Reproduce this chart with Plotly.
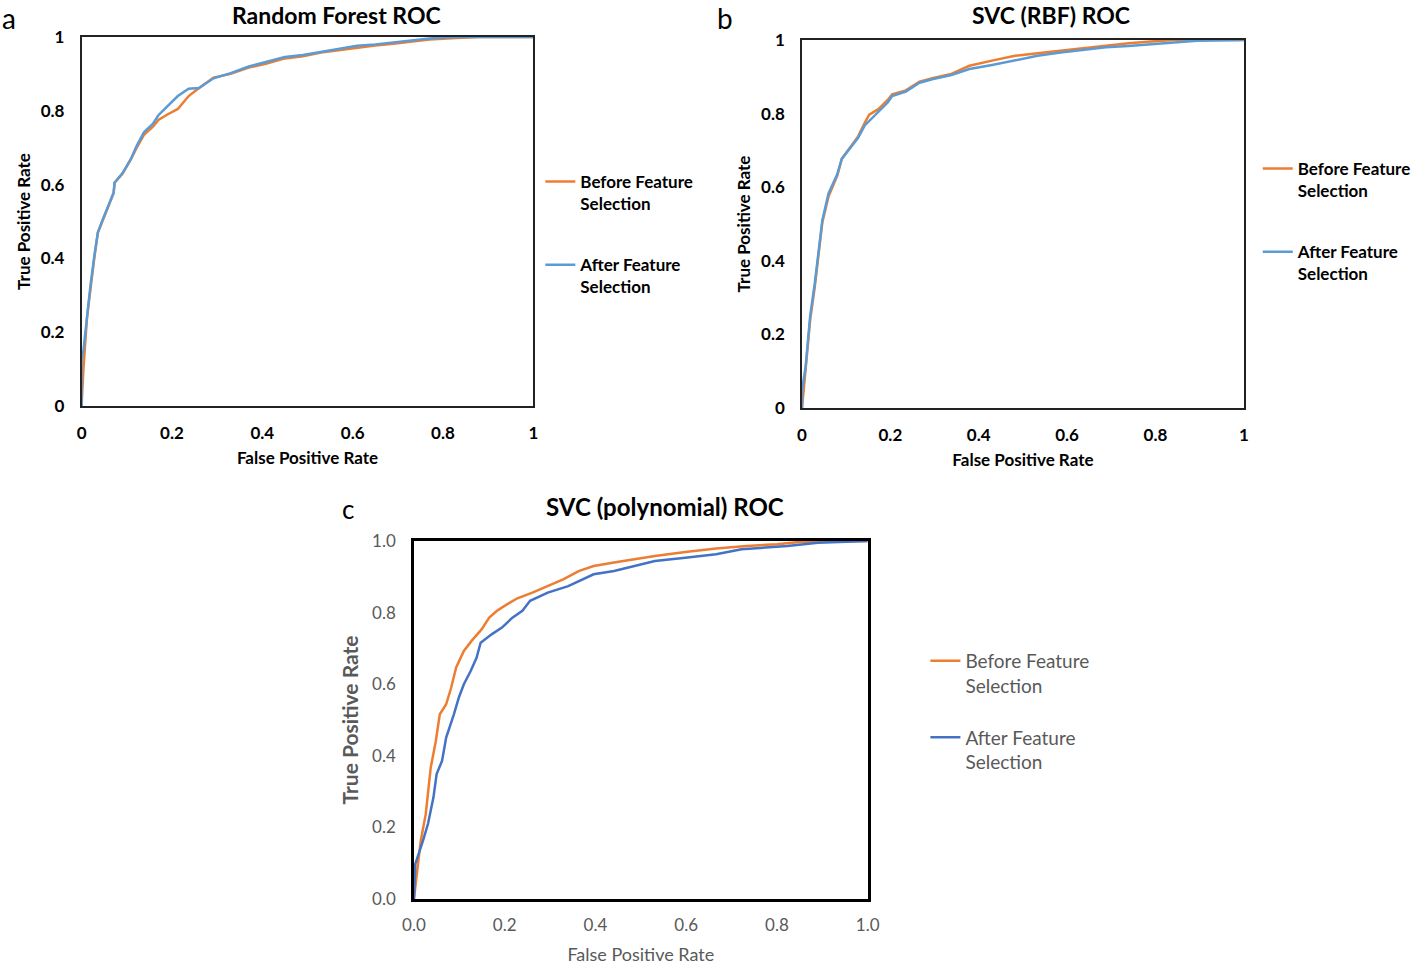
import plotly.graph_objects as go

# ---------------- data ----------------
# Panel a: Random Forest
rf_before_fpr = [0, 0.004, 0.012, 0.02, 0.028, 0.036, 0.047, 0.059, 0.071, 0.073, 0.091, 0.11, 0.122, 0.138, 0.158, 0.17, 0.19, 0.213, 0.237, 0.26, 0.292, 0.33, 0.37, 0.41, 0.45, 0.49, 0.53, 0.57, 0.61, 0.65, 0.69, 0.73, 0.77, 0.83, 0.88, 1.0]
rf_before_tpr = [0, 0.10, 0.24, 0.325, 0.40, 0.47, 0.506, 0.54, 0.578, 0.605, 0.63, 0.67, 0.70, 0.735, 0.757, 0.775, 0.79, 0.805, 0.84, 0.862, 0.89, 0.90, 0.917, 0.928, 0.942, 0.948, 0.958, 0.965, 0.972, 0.977, 0.982, 0.988, 0.993, 0.997, 1.0, 1.0]
rf_after_fpr = [0, 0.0, 0.004, 0.012, 0.02, 0.028, 0.036, 0.047, 0.059, 0.071, 0.073, 0.091, 0.11, 0.122, 0.138, 0.158, 0.17, 0.19, 0.213, 0.237, 0.26, 0.292, 0.33, 0.37, 0.41, 0.45, 0.49, 0.53, 0.57, 0.61, 0.65, 0.69, 0.73, 0.77, 0.83, 1.0]
rf_after_tpr = [0, 0.13, 0.15, 0.25, 0.33, 0.405, 0.47, 0.506, 0.54, 0.578, 0.605, 0.632, 0.672, 0.705, 0.742, 0.765, 0.788, 0.812, 0.84, 0.86, 0.862, 0.888, 0.902, 0.92, 0.934, 0.946, 0.951, 0.96, 0.968, 0.976, 0.98, 0.985, 0.992, 0.996, 1.0, 1.0]

# Panel b: SVC (RBF)
rbf_before_fpr = [0, 0.008, 0.0185, 0.029, 0.037, 0.044, 0.046, 0.06, 0.08, 0.09, 0.111, 0.127, 0.142, 0.152, 0.173, 0.194, 0.204, 0.235, 0.266, 0.297, 0.338, 0.379, 0.43, 0.482, 0.533, 0.585, 0.636, 0.688, 0.739, 0.79, 0.842, 1.0]
rbf_before_tpr = [0, 0.10, 0.24, 0.33, 0.41, 0.48, 0.505, 0.575, 0.632, 0.677, 0.712, 0.738, 0.775, 0.797, 0.812, 0.837, 0.852, 0.863, 0.887, 0.897, 0.908, 0.93, 0.944, 0.957, 0.964, 0.971, 0.977, 0.986, 0.991, 0.996, 1.0, 1.0]
rbf_after_fpr = [0, 0.0, 0.008, 0.0185, 0.029, 0.037, 0.044, 0.046, 0.06, 0.08, 0.09, 0.111, 0.127, 0.142, 0.152, 0.173, 0.194, 0.204, 0.235, 0.266, 0.297, 0.338, 0.379, 0.43, 0.482, 0.533, 0.585, 0.636, 0.688, 0.739, 0.79, 0.842, 0.894, 1.0]
rbf_after_tpr = [0, 0.05, 0.11, 0.25, 0.34, 0.42, 0.49, 0.51, 0.583, 0.636, 0.677, 0.708, 0.734, 0.768, 0.78, 0.806, 0.83, 0.848, 0.86, 0.884, 0.894, 0.905, 0.921, 0.932, 0.944, 0.957, 0.966, 0.973, 0.98, 0.984, 0.989, 0.994, 0.998, 1.0]

# Panel c: SVC (polynomial)
poly_before_fpr = [0, 0.006, 0.015, 0.026, 0.037, 0.048, 0.057, 0.071, 0.082, 0.093, 0.11, 0.127, 0.149, 0.166, 0.183, 0.205, 0.228, 0.261, 0.295, 0.329, 0.363, 0.396, 0.441, 0.486, 0.531, 0.598, 0.666, 0.733, 0.8, 0.856, 1.0]
poly_before_tpr = [0, 0.07, 0.163, 0.237, 0.367, 0.44, 0.516, 0.544, 0.59, 0.647, 0.693, 0.721, 0.753, 0.786, 0.805, 0.823, 0.84, 0.856, 0.874, 0.893, 0.916, 0.93, 0.94, 0.949, 0.958, 0.969, 0.979, 0.986, 0.991, 0.998, 1.0]
poly_after_fpr = [0, 0.003, 0.02, 0.031, 0.043, 0.05, 0.062, 0.071, 0.088, 0.099, 0.11, 0.125, 0.138, 0.147, 0.172, 0.194, 0.217, 0.239, 0.256, 0.295, 0.34, 0.374, 0.396, 0.441, 0.486, 0.531, 0.598, 0.666, 0.722, 0.823, 0.89, 1.0]
poly_after_tpr = [0, 0.098, 0.163, 0.21, 0.284, 0.349, 0.386, 0.451, 0.516, 0.563, 0.6, 0.637, 0.674, 0.716, 0.74, 0.758, 0.786, 0.805, 0.833, 0.856, 0.874, 0.893, 0.907, 0.916, 0.93, 0.944, 0.953, 0.963, 0.977, 0.986, 0.995, 1.0]

series_names = ["Before Feature<br>Selection", "After Feature<br>Selection"]
panel_titles = ["Random Forest ROC", "SVC (RBF) ROC", "SVC (polynomial) ROC"]
panel_letters = ["a", "b", "c"]
ticks_ab = [0, 0.2, 0.4, 0.6, 0.8, 1]
ticks_c = [0, 0.2, 0.4, 0.6, 0.8, 1.0]

# ---------------- styling ----------------
W, H = 1416, 965
ORANGE = "#ED7D31"
LBLUE = "#5B9BD5"
DBLUE = "#4472C4"
FONT = "Lato"
GRAY = "#595959"

def px_x(p):
    return p / W

def px_y(p):
    return 1 - p / H

fig = go.Figure()

def add(fpr, tpr, name, color, xa, ya, legend, group):
    fig.add_trace(go.Scatter(x=fpr, y=tpr, mode="lines", name=name,
                             line=dict(color=color, width=2.5),
                             xaxis=xa, yaxis=ya, legend=legend,
                             legendgroup=group))

add(rf_before_fpr, rf_before_tpr, series_names[0], ORANGE, "x", "y", "legend", "a1")
add(rf_after_fpr, rf_after_tpr, series_names[1], LBLUE, "x", "y", "legend", "a2")
add(rbf_before_fpr, rbf_before_tpr, series_names[0], ORANGE, "x2", "y2", "legend2", "b1")
add(rbf_after_fpr, rbf_after_tpr, series_names[1], LBLUE, "x2", "y2", "legend2", "b2")
add(poly_before_fpr, poly_before_tpr, series_names[0], ORANGE, "x3", "y3", "legend3", "c1")
add(poly_after_fpr, poly_after_tpr, series_names[1], DBLUE, "x3", "y3", "legend3", "c2")

bold_tick = dict(family=FONT, size=17, color="black", weight="bold")
bold_title = dict(family=FONT, size=17, color="black", weight="bold")

def ab_axes(dom_x, dom_y, anchor_x, anchor_y):
    xa = dict(domain=dom_x, range=[0, 1], tickvals=ticks_ab, showgrid=False, zeroline=False,
              showline=True, linecolor="#222", linewidth=1.5, mirror=True, automargin=False,
              tickfont=bold_tick, ticks="", ticklabelstandoff=11, anchor=anchor_y,
              title=dict(text="False Positive Rate", font=bold_title, standoff=10))
    ya = dict(domain=dom_y, range=[0, 1], tickvals=ticks_ab, showgrid=False, zeroline=False,
              showline=True, linecolor="#222", linewidth=1.5, mirror=True, automargin=False,
              tickfont=bold_tick, ticks="", ticklabelstandoff=12, anchor=anchor_x,
              title=dict(text="True Positive Rate", font=bold_title, standoff=6))
    return xa, ya

xa1, ya1 = ab_axes([px_x(82), px_x(536)], [px_y(406), px_y(37)], "x", "y")
xa2, ya2 = ab_axes([px_x(806), px_x(1250)], [px_y(408), px_y(40)], "x2", "y2")

c_tick = dict(family=FONT, size=17, color=GRAY)
xa3 = dict(domain=[px_x(416), px_x(872)], range=[0, 1], tickvals=ticks_c, tickformat=".1f",
           showgrid=False, zeroline=False, showline=True, linecolor="black", linewidth=2.5,
           mirror=True, tickfont=c_tick, ticks="", ticklabelstandoff=9, anchor="y3", automargin=False,
           title=dict(text="False Positive Rate", font=dict(family=FONT, size=18, color=GRAY), standoff=16))
ya3 = dict(domain=[px_y(899), px_y(541)], range=[0, 1], tickvals=ticks_c, tickformat=".1f",
           showgrid=False, zeroline=False, showline=True, linecolor="black", linewidth=2.5,
           mirror=True, tickfont=c_tick, ticks="", ticklabelstandoff=12, anchor="x3", automargin=False,
           title=dict(text="True Positive Rate", font=dict(family=FONT, size=21, color=GRAY, weight="bold"), standoff=8))

leg_ab = dict(font=dict(family=FONT, size=17, color="black", weight="bold"),
              bgcolor="rgba(0,0,0,0)", tracegroupgap=36, valign="top",
              xanchor="left", yanchor="top", itemwidth=30)

fig.update_layout(
    width=W, height=H, margin=dict(l=0, r=0, t=0, b=0),
    paper_bgcolor="white", plot_bgcolor="white",
    xaxis=xa1, yaxis=ya1, xaxis2=xa2, yaxis2=ya2, xaxis3=xa3, yaxis3=ya3,
    legend=dict(x=px_x(543), y=px_y(164), **leg_ab),
    legend2=dict(x=px_x(1264), y=px_y(151), **leg_ab),
    legend3=dict(x=px_x(930), y=px_y(642), font=dict(family=FONT, size=19, color=GRAY),
                 bgcolor="rgba(0,0,0,0)", tracegroupgap=24, valign="top",
                 xanchor="left", yanchor="top", itemwidth=30),
    showlegend=True,
)

annotations = [
    dict(text=panel_titles[0], x=px_x(338), y=px_y(15), font=dict(family=FONT, size=23, color="black", weight="bold")),
    dict(text=panel_titles[1], x=px_x(1056), y=px_y(15), font=dict(family=FONT, size=23, color="black", weight="bold")),
    dict(text=panel_titles[2], x=px_x(668), y=px_y(507), font=dict(family=FONT, size=24, color="black", weight="bold")),
    dict(text=panel_letters[0], x=px_x(9), y=px_y(18), font=dict(family=FONT, size=28, color="black")),
    dict(text=panel_letters[1], x=px_x(729), y=px_y(18), font=dict(family=FONT, size=28, color="black")),
    dict(text=panel_letters[2], x=px_x(350), y=px_y(509), font=dict(family=FONT, size=26, color="black")),
]
for a in annotations:
    a.update(xref="paper", yref="paper", showarrow=False, xanchor="center", yanchor="middle")
fig.update_layout(annotations=annotations)

fig.write_html("out.html", config={"displayModeBar": False},
               post_script="document.body.style.margin='0';")
